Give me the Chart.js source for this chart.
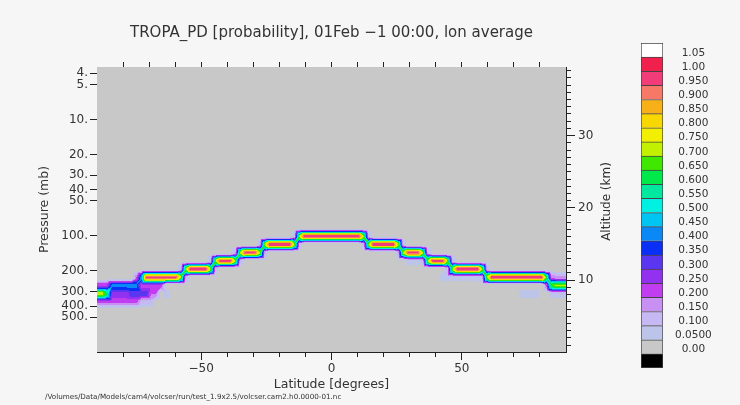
<!DOCTYPE html>
<html>
<head>
<meta charset="utf-8">
<script src="https://cdn.jsdelivr.net/npm/chart.js@4.4.1/dist/chart.umd.min.js"></script>
<style>
  html, body { margin: 0; padding: 0; background: #f6f6f6; }
  #wrap { position: relative; width: 740px; height: 405px; }
  #main { position: absolute; left: 0; top: 0; }
  #key { position: absolute; left: 641px; top: 31px; }
</style>
</head>
<body>
<div id="wrap">
  <canvas id="main" width="740" height="405"></canvas>
  <canvas id="key" width="80" height="349"></canvas>
</div>
<script>
// model levels (mb) and latitude grid of the 1.9x2.5 run
const levels = [3.54, 7.39, 13.97, 23.94, 37.23, 53.11, 70.06, 85.44, 100.51, 118.25, 139.12, 163.66, 192.54,
  226.51, 266.48, 313.50, 368.82, 433.90, 510.46, 600.52, 696.80, 787.70, 867.16, 929.65, 970.55, 992.56];
const latGrid = Array.from({ length: 96 }, (_, j) => -90 + j * 180 / 95);

// main tropopause band: latitude edges, level and peak probability of each step
const bandEdges = [-90, -85.3, -73.9, -72, -56.8, -45.5, -36.0, -26.5, -13.3, 13.3, 26.5, 36.0, 45.5, 58.7, 83.4, 90];
const bandLevel = [313.5, 266.5, 226.5, 226.5, 192.5, 163.7, 139.1, 118.3, 100.5, 118.3, 139.1, 163.7, 192.5, 226.5, 266.5];
const bandPeak = [0.74, 0.42, 0.52, 0.96, 1.0, 0.97, 0.97, 1.0, 1.0, 1.0, 0.97, 0.97, 1.0, 1.0, 0.72];

// at each step: probability of the two columns next to it, on their own level and on the other level
const stepOwn = [0.6, 0.45, 1, 0.7, 0.7, 0.7, 0.7, 0.7, 0.7, 0.7, 0.7, 0.7, 0.7, 0.65];
const stepCross = [0.25, 0.2, 0, 0.12, 0.12, 0.12, 0.12, 0.12, 0.12, 0.12, 0.12, 0.12, 0.12, 0.2];

// weaker secondary maxima
const hazeLat0 = [-85, -77, -70, -65, -90, -73, -90, -73, 28, 42, 72, 84, 84];
const hazeLat1 = [-78, -71, -66, -63, -74, -68, -86, -64, 34, 56, 80, 90, 90];
const hazeLevel = [313.5, 313.5, 313.5, 313.5, 368.8, 368.8, 266.5, 266.5, 163.7, 226.5, 313.5, 226.5, 313.5];
const hazeProb = [0.28, 0.33, 0.2, 0.1, 0.22, 0.12, 0.25, 0.22, 0.09, 0.09, 0.09, 0.16, 0.1];

// axes
const pressureTicks = [4, 5, 10, 20, 30, 40, 50, 100, 200, 300, 400, 500];
const latMajor = [-50, 0, 50];
const latMinor = [-80, -70, -60, -50, -40, -30, -20, -10, 0, 10, 20, 30, 40, 50, 60, 70, 80];
const altMajor = [10, 20, 30];
const altMinor = Array.from({ length: 39 }, (_, i) => i + 1);

// colour key, bottom (below 0) to top
const keyLabels = ['0.00', '0.0500', '0.100', '0.150', '0.200', '0.250', '0.300', '0.350', '0.400', '0.450', '0.500',
  '0.550', '0.600', '0.650', '0.700', '0.750', '0.800', '0.850', '0.900', '0.950', '1.00', '1.05'];
const keyColors = ['#000000', '#c8c8c8', '#bcc4ea', '#c6b8f2', '#c890f2', '#c03ef0', '#9232f0', '#5a36f0', '#0a30f6',
  '#0a88f6', '#00c4f2', '#00f0e2', '#00e8a0', '#00e84a', '#40e800', '#c2f000', '#f2f000', '#f8d800', '#f8b018',
  '#f87868', '#f23c7a', '#f2204c', '#ffffff'];

const ink = '#333';
Chart.defaults.font.family = 'DejaVu Sans';
Chart.defaults.color = ink;

const altToPressure = z => 1000 * Math.exp(-z / 7);

function nearestLevel(p) {
  let best = 0;
  levels.forEach((q, k) => {
    if (Math.abs(Math.log(q / p)) < Math.abs(Math.log(levels[best] / p))) best = k;
  });
  return best;
}

function buildGrid() {
  const g = levels.map(() => latGrid.map(() => 0));
  const inBand = (lat, b) => lat >= bandEdges[b] - 0.01 &&
    (lat < bandEdges[b + 1] || (b === bandLevel.length - 1 && lat <= 90.01));
  bandLevel.forEach((p, b) => {
    const k = nearestLevel(p);
    latGrid.forEach((lat, j) => { if (inBand(lat, b)) g[k][j] = Math.max(g[k][j], bandPeak[b]); });
  });
  stepOwn.forEach((own, s) => {
    const kL = nearestLevel(bandLevel[s]), kR = nearestLevel(bandLevel[s + 1]);
    if (kL === kR) return;
    const jR = latGrid.findIndex(lat => lat >= bandEdges[s + 1]);
    const jL = jR - 1;
    g[kL][jL] = Math.min(g[kL][jL], own);
    g[kR][jR] = Math.min(g[kR][jR], own);
    g[kR][jL] = Math.max(g[kR][jL], stepCross[s]);
    g[kL][jR] = Math.max(g[kL][jR], stepCross[s]);
  });
  hazeLevel.forEach((p, h) => {
    const k = nearestLevel(p);
    latGrid.forEach((lat, j) => {
      if (lat >= hazeLat0[h] - 0.01 && lat <= hazeLat1[h] + 0.01) g[k][j] = Math.max(g[k][j], hazeProb[h]);
    });
  });
  return g;
}
const grid = buildGrid();

const hexRGB = h => [1, 3, 5].map(i => parseInt(h.substr(i, 2), 16));
const keyRGB = keyColors.map(hexRGB);
const smooth = s => s * s * (3 - 2 * s);

// value inside one grid cell, linear on two triangles split along the stronger diagonal
function cellValue(a, b, c, d, t, u) {
  // a=(0,0) b=(1,0) c=(0,1) d=(1,1)
  if (a + d >= b + c) {
    return t >= u ? a + t * (b - a) + u * (d - b) : a + u * (c - a) + t * (d - c);
  }
  return t + u <= 1 ? a + t * (b - a) + u * (c - a) : d + (1 - t) * (c - d) + (1 - u) * (b - d);
}

// filled contours of the grid, pixel by pixel through the chart scales
const contourFill = {
  id: 'contourFill',
  beforeDatasetsDraw(chart) {
    const { ctx, chartArea: a, scales } = chart;
    const xs = scales.x, ys = scales.y;
    const w = Math.round(a.right - a.left), h = Math.round(a.bottom - a.top);
    const off = document.createElement('canvas');
    off.width = w; off.height = h;
    const octx = off.getContext('2d');
    const img = octx.createImageData(w, h);
    const dlat = latGrid[1] - latGrid[0];
    const cols = [];
    for (let px = 0; px < w; px++) {
      const lat = xs.getValueForPixel(a.left + px + 0.5);
      const f = (lat - latGrid[0]) / dlat;
      const j = Math.min(latGrid.length - 2, Math.max(0, Math.floor(f)));
      cols.push([j, Math.min(1, Math.max(0, f - j))]);
    }
    const rows = [];
    for (let py = 0; py < h; py++) {
      const p = ys.getValueForPixel(a.top + py + 0.5);
      let k = 0;
      while (k < levels.length - 2 && levels[k + 1] < p) k++;
      const u = (Math.log(p) - Math.log(levels[k])) / (Math.log(levels[k + 1]) - Math.log(levels[k]));
      rows.push([k, smooth(Math.min(1, Math.max(0, u)))]);
    }
    for (let py = 0; py < h; py++) {
      const [k, u] = rows[py];
      const g0 = grid[k], g1 = grid[k + 1];
      for (let px = 0; px < w; px++) {
        const [j, t] = cols[px];
        const v = cellValue(g0[j], g0[j + 1], g1[j], g1[j + 1], t, u);
        const idx = v < 0 ? 0 : Math.min(22, Math.floor(v / 0.05 + 1e-6) + 1);
        const c = keyRGB[idx];
        const o = (py * w + px) * 4;
        img.data[o] = c[0]; img.data[o + 1] = c[1]; img.data[o + 2] = c[2]; img.data[o + 3] = 255;
      }
    }
    octx.putImageData(img, 0, 0);
    ctx.drawImage(off, a.left, a.top);
  }
};

const extraText = {
  id: 'extraText',
  afterDraw(chart) {
    const { ctx, chartArea: a } = chart;
    ctx.save();
    ctx.fillStyle = ink;
    ctx.font = '12px "DejaVu Sans"';
    ctx.textAlign = 'center';
    ctx.textBaseline = 'middle';
    ctx.translate(a.right + 41, (a.top + a.bottom) / 2 - 8);
    ctx.rotate(-Math.PI / 2);
    ctx.fillText('Altitude (km)', 0, 0);
    ctx.restore();
    ctx.save();
    ctx.fillStyle = ink;
    ctx.font = '7.2px "DejaVu Sans"';
    ctx.textBaseline = 'middle';
    ctx.fillText('/Volumes/Data/Models/cam4/volcser/run/test_1.9x2.5/volcser.cam2.h0.0000-01.nc', 45, 397);
    ctx.restore();
  }
};

const tickFont = { size: 12 };
const edge = { color: '#222', width: 1 };
const fixed = (prop, val) => s => { s[prop] = val; };
const setTicks = vals => s => { s.ticks = vals.map(v => ({ value: v })); };
const latLabel = v => (v < 0 ? '\u2212' + Math.abs(v) : String(v));

new Chart(document.getElementById('main'), {
  type: 'scatter',
  data: { datasets: [] },
  options: {
    responsive: false,
    animation: false,
    layout: { padding: 0 },
    plugins: { legend: { display: false }, tooltip: { enabled: false } },
    scales: {
      xm: {
        type: 'linear', position: 'bottom', weight: 0, min: -90, max: 90, z: 1,
        afterFit: fixed('height', 0), afterBuildTicks: setTicks(latMinor),
        ticks: { display: false },
        grid: { drawOnChartArea: false, tickLength: 5, color: '#222' }, border: edge
      },
      x: {
        type: 'linear', position: 'bottom', weight: 1, min: -90, max: 90, z: 1,
        afterFit: fixed('height', 53), afterBuildTicks: setTicks(latMajor),
        ticks: { callback: latLabel, font: tickFont, padding: 2, maxRotation: 0, autoSkip: false },
        grid: { drawOnChartArea: false, tickLength: 8, color: '#222' }, border: edge,
        title: { display: true, text: 'Latitude [degrees]', font: { size: 12.5 }, padding: { bottom: 13 } }
      },
      x2: {
        type: 'linear', position: 'top', min: -90, max: 90, z: 1,
        afterFit: fixed('height', 67), afterBuildTicks: setTicks(latMinor),
        ticks: { display: false },
        grid: { drawOnChartArea: false, tickLength: 5, color: '#222' }, border: edge,
        title: { display: true, text: 'TROPA_PD [probability], 01Feb \u22121 00:00, lon average', font: { size: 15 }, padding: { top: 24 } }
      },
      y: {
        type: 'logarithmic', position: 'left', min: 3.54, max: 992.56, reverse: true, z: 1,
        afterFit: fixed('width', 97), afterBuildTicks: setTicks(pressureTicks),
        ticks: { callback: v => v + '.', font: tickFont, padding: 2, autoSkip: false },
        grid: { drawOnChartArea: false, tickLength: 7, color: '#222' }, border: edge,
        title: { display: true, text: 'Pressure (mb)', font: { size: 12.5 }, padding: { top: 37 } }
      },
      y2m: {
        type: 'logarithmic', position: 'right', weight: 0, min: 3.54, max: 992.56, reverse: true, z: 1,
        afterFit: fixed('width', 0), afterBuildTicks: setTicks(altMinor.map(altToPressure)),
        ticks: { display: false },
        grid: { drawOnChartArea: false, tickLength: 5, color: '#222' }, border: edge
      },
      y2: {
        type: 'logarithmic', position: 'right', weight: 1, min: 3.54, max: 992.56, reverse: true, z: 1,
        afterFit: fixed('width', 174), afterBuildTicks: setTicks(altMajor.map(altToPressure)),
        ticks: { callback: (v, i) => String(altMajor[i]), font: tickFont, padding: 3, autoSkip: false },
        grid: { drawOnChartArea: false, tickLength: 9, color: '#222' }, border: edge
      }
    }
  },
  plugins: [contourFill, extraText]
});

new Chart(document.getElementById('key'), {
  type: 'bar',
  data: {
    labels: [''],
    datasets: keyColors.map((c, i) => ({
      data: [1],
      backgroundColor: c,
      borderColor: '#444',
      borderWidth: { top: 1, left: 1, right: 1, bottom: i === 0 ? 1 : 0 },
      borderSkipped: false,
      barPercentage: 1,
      categoryPercentage: 1
    }))
  },
  options: {
    responsive: false,
    animation: false,
    layout: { padding: { top: 12, bottom: 12 } },
    plugins: { legend: { display: false }, tooltip: { enabled: false } },
    scales: {
      x: { stacked: true, display: false },
      y: {
        stacked: true, position: 'right', min: 0, max: keyColors.length,
        afterFit: fixed('width', 58),
        afterBuildTicks: setTicks(keyLabels.map((_, i) => i + 1.3)),
        ticks: { callback: (v, i) => keyLabels[i], crossAlign: 'center', padding: 4, autoSkip: false, font: { size: 10.5 } },
        grid: { display: false }, border: { display: false }
      }
    }
  }
});
</script>
</body>
</html>
